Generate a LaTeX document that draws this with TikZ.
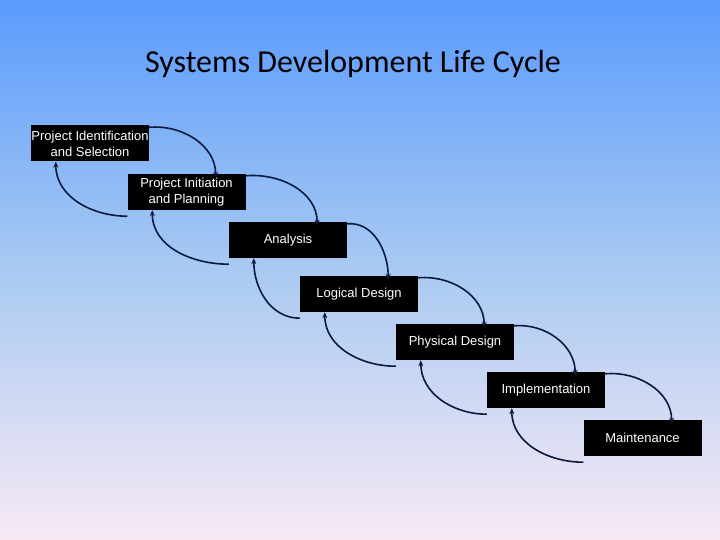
\documentclass[tikz,border=0pt]{standalone}
\usepackage{fontspec}
\setmainfont{Liberation Sans}
\newfontfamily\titlefont{Carlito}
\usetikzlibrary{arrows.meta}
\definecolor{skytop}{HTML}{5A9BFD}
\definecolor{skymid}{HTML}{A9CAF2}
\definecolor{skybot}{HTML}{F8E9F5}
\definecolor{loopline}{HTML}{0B1A3E}
\begin{document}
\begin{tikzpicture}[x=1pt,y=-1pt,
	phase/.style={fill=black, text=white, minimum width=118pt, minimum height=36pt,
		inner sep=0pt, align=center, font=\fontsize{13}{16}\selectfont},
	loop/.style={draw=loopline, line width=1.6pt, -{Stealth[length=6pt,width=5pt]}}]
	
	% Background
	\shade[top color=skytop, bottom color=skybot, middle color=skymid] (0,0) rectangle (720,540);
	\useasboundingbox (0,0) rectangle (720,540);
	
	% Title
	\node[font=\titlefont\fontsize{32}{36}\selectfont] (title) at (353,64) {Systems Development Life Cycle};
	
	% Phases
	\node[phase] (ident) at (90,143.5) {Project Identification\\and Selection};
	\node[phase] (init) at (186.5,192) {Project Initiation\\and Planning};
	\node[phase] (anal) at (288,240) {Analysis};
	\node[phase] (logic) at (359,294) {Logical Design};
	\node[phase] (phys) at (455,342) {Physical Design};
	\node[phase] (impl) at (546,390) {Implementation};
	\node[phase] (maint) at (642.5,438) {Maintenance};
	
	% Forward and backward loops
	\foreach \a/\b in {ident/init, init/anal, anal/logic, logic/phys, phys/impl, impl/maint} {
		\draw[loop] ([yshift=-2pt]\a.north east) to[out=5,in=90] ([xshift=-30pt,yshift=-4pt]\b.north east);
		\draw[loop] ([yshift=-6pt]\b.south west) to[out=180,in=-90] ([xshift=25pt]\a.south west);
	}
	
\end{tikzpicture}
\end{document}
